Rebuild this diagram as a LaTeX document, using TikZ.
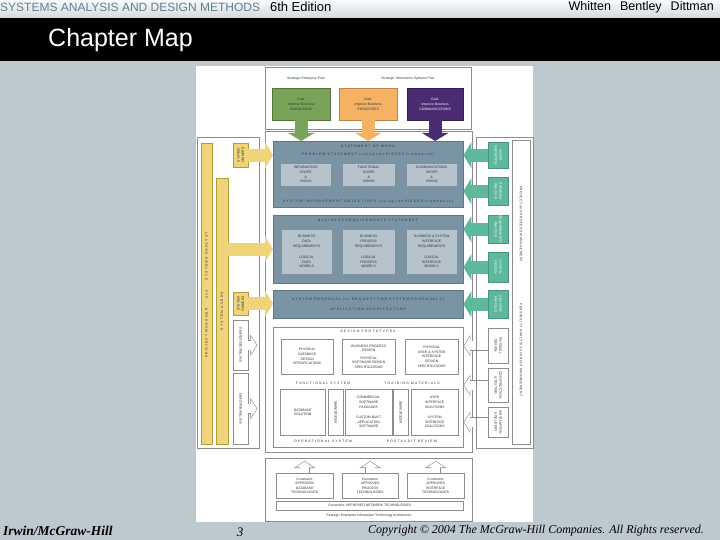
\documentclass[tikz,border=0pt]{standalone}
\usepackage{fontspec}
\setmainfont{Liberation Sans}
\newfontfamily\footfont{Liberation Serif}
\usetikzlibrary{calc,arrows.meta,positioning}

\definecolor{bgc}{HTML}{BDC8CF}
\definecolor{hdrc}{HTML}{62808F}
\definecolor{linec}{HTML}{8C8C8C}
\definecolor{blkc}{HTML}{7B94A3}
\definecolor{blkd}{HTML}{5F7786}
\definecolor{subc}{HTML}{B6C3CC}
\definecolor{ylw}{HTML}{EFD47A}
\definecolor{ylwd}{HTML}{B59A3A}
\definecolor{tealc}{HTML}{5DB89E}
\definecolor{grn}{HTML}{7AA35A}
\definecolor{orng}{HTML}{F6B264}
\definecolor{purp}{HTML}{4A2C72}
\definecolor{inkc}{HTML}{2B353B}

\newcommand\mini{\fontsize{3.4}{4.6}\selectfont}
\newcommand\minisp{\mini\addfontfeature{LetterSpace=35}}
\newcommand\minisl{\mini\addfontfeature{LetterSpace=12}}
\newcommand\holarrow[2]{%
  \draw[hol] #1 -- #2;
  \draw[holin] #1 -- #2;}

\begin{document}
\begin{tikzpicture}[x=1pt,y=-1pt,line width=0.4pt,
  wd/.style={minimum width=#1},ht/.style={minimum height=#1},
  box/.style={draw=linec,fill=white,inner sep=0.5pt,anchor=north west,align=center,font=\mini,text=inkc},
  blk/.style={box,draw=blkd,fill=blkc},
  sub/.style={box,draw=blkd!80,fill=subc},
  ybox/.style={box,draw=ylwd,fill=ylw},
  tbox/.style={box,draw=tealc!80!black,fill=tealc},
  lbl/.style={font=\mini,text=inkc,inner sep=0pt,align=center},
  ttl/.style={font=\minisp,text=inkc,inner sep=0pt},
  fat/.style={draw=#1,line width=13pt,-{Triangle[length=8pt,width=26pt]}},
  hol/.style={draw=linec,line width=10pt,-{Triangle[length=7pt,width=21pt]}},
  holin/.style={draw=white,line width=8.8pt,shorten >=0.72pt,-{Triangle[length=5.68pt,width=17.04pt]}}]
  % slide
  \fill[bgc] (0,0) rectangle (720,540);
  \shade[top color=white!92!bgc,bottom color=bgc!70!white] (0,0) rectangle (720,18);
  \node[anchor=west,inner sep=0pt,font=\fontsize{12}{12}\selectfont] (hdr) at (0,7)
    {\textcolor{hdrc}{SYSTEMS ANALYSIS AND DESIGN METHODS}\hspace{10pt}\fontsize{13}{13}\selectfont 6th Edition};
  \node[anchor=east,inner sep=0pt,font=\fontsize{12.5}{12.5}\selectfont] (auth) at (714,7)
    {Whitten\hspace{9pt}Bentley\hspace{9pt}Dittman};
  \fill[black] (0,18) rectangle (720,61);
  \node[anchor=west,inner sep=0pt,text=white,font=\fontsize{25}{25}\selectfont] (cmap) at (48,40) {Chapter Map};
  \node[anchor=west,inner sep=0pt,font=\footfont\bfseries\itshape\fontsize{13.5}{13.5}\selectfont] (irwin) at (3,531) {Irwin/McGraw-Hill};
  \node[inner sep=0pt,font=\footfont\itshape\fontsize{13}{13}\selectfont] (pg) at (240,532) {3};
  \node[anchor=west,inner sep=0pt,font=\footfont\itshape\fontsize{12}{12}\selectfont] (copy) at (368,531)
    {Copyright \textcopyright{} 2004 The McGraw-Hill Companies. All Rights reserved.};
  \fill[white] (196,66) rectangle (533,522);
  % plans and goals
  \draw[linec] (265,67) rectangle (471,129);
  \node[lbl] (sep) at (306,79) {Strategic Enterprise Plan};
  \node[lbl] (sisp) at (408,79) {Strategic Information Systems Plan};
  \node[box,draw=grn!70!black,fill=grn,wd=58,ht=32] (gK) at (272,88) {Goal:\\Improve Business\\KNOWLEDGE};
  \node[box,draw=orng!75!black,fill=orng,wd=58,ht=32] (gP) at (339,88) {Goal:\\Improve Business\\PROCESSES};
  \node[box,draw=purp!70!black,fill=purp,wd=56,ht=32,text=white] (gC) at (407,88) {Goal:\\Improve Business\\COMMUNICATIONS};
  % frames
  \draw[linec] (265,131) rectangle (472,452);
  \draw[linec] (197,137) rectangle (259,448);
  \draw[linec] (476,137) rectangle (533,448);
  % statement of work
  \node[blk,wd=190,ht=66] (sow) at (273,141) {};
  \node[ttl] (sowt) at (368,146) {STATEMENT OF WORK};
  \node[ttl] (pst) at (368,155) {PROBLEM STATEMENT (using the PIECES framework)};
  \node[sub,wd=51,ht=23] (infoS) at (280,163) {INFORMATION\\SCOPE\\\&\\VISION};
  \node[sub,wd=53,ht=23] (funcS) at (342,163) {FUNCTIONAL\\SCOPE\\\&\\VISION};
  \node[sub,wd=51,ht=23] (commS) at (406,163) {COMMUNICATIONS\\SCOPE\\\&\\VISION};
  \node[ttl] (sio) at (368,202) {SYSTEM IMPROVEMENT OBJECTIVES (using the PIECES framework)};
  % business requirements
  \node[blk,wd=190,ht=68] (brs) at (273,215) {};
  \node[ttl] (brst) at (368,221) {BUSINESS REQUIREMENTS STATEMENT};
  \node[sub,wd=51,ht=45] (dataR) at (281,229) {BUSINESS\\DATA\\REQUIREMENTS\\[7pt]LOGICAL\\DATA\\MODELS};
  \node[sub,wd=53,ht=45] (procR) at (342,229) {BUSINESS\\PROCESS\\REQUIREMENTS\\[7pt]LOGICAL\\PROCESS\\MODELS};
  \node[sub,wd=51,ht=45] (intR) at (406,229) {BUSINESS \& SYSTEM\\INTERFACE\\REQUIREMENTS\\[7pt]LOGICAL\\INTERFACE\\MODELS};
  % proposal
  \node[blk,wd=190,ht=28] (prop) at (273,290) {};
  \node[ttl] (propt) at (368,300) {SYSTEM PROPOSAL (or REQUEST FOR SYSTEM PROPOSALS)};
  \node[ttl] (arch) at (368,309) {APPLICATION ARCHITECTURE};
  % design and construction
  \node[box,wd=190,ht=120] (dp) at (273,327) {};
  \node[ttl] (dpt) at (368,331) {DESIGN PROTOTYPES};
  \node[box,wd=52,ht=35] (pdb) at (281,339) {PHYSICAL\\DATABASE\\DESIGN\\SPECIFICATIONS};
  \node[box,wd=53,ht=35] (bpd) at (342,339) {BUSINESS PROCESS\\DESIGN\\[3pt]PHYSICAL\\SOFTWARE DESIGN\\SPECIFICATIONS};
  \node[box,wd=53,ht=35] (pui) at (405,339) {PHYSICAL\\USER \& SYSTEM\\INTERFACE\\DESIGN\\SPECIFICATIONS};
  \node[ttl] (fs) at (323,383) {FUNCTIONAL SYSTEM};
  \node[ttl] (tm) at (412,383) {TRAINING MATERIALS};
  \node[box,wd=45,ht=46] (dbs) at (280,389) {DATABASE\\SOLUTION};
  \node[box,wd=15,ht=46] (mw1) at (328,389) {};
  \node[box,wd=47,ht=46] (app) at (345,389) {COMMERCIAL\\SOFTWARE\\PACKAGES\\[6pt]CUSTOM-BUILT\\APPLICATION\\SOFTWARE};
  \node[box,wd=15,ht=46] (mw2) at (393,389) {};
  \node[box,wd=47,ht=46] (uis) at (411,389) {USER\\INTERFACE\\SOLUTIONS\\[6pt]SYSTEM\\INTERFACE\\SOLUTIONS};
  \node[lbl,rotate=90] at (mw1.center) {MIDDLEWARE};
  \node[lbl,rotate=90] at (mw2.center) {MIDDLEWARE};
  \node[ttl] (ops) at (323,441) {OPERATIONAL SYSTEM};
  \node[ttl] (par) at (412,441) {POSTAUDIT REVIEW};
  % technology architecture
  \draw[linec] (265,458) rectangle (472,521);
  \node[box,wd=57,ht=25] (cD) at (276,473) {Constraint:\\APPROVED\\DATABASE\\TECHNOLOGIES};
  \node[box,wd=56,ht=25] (cP) at (342,473) {Constraint:\\APPROVED\\PROCESS\\TECHNOLOGIES};
  \node[box,wd=57,ht=25] (cI) at (407,473) {Constraint:\\APPROVED\\INTERFACE\\TECHNOLOGIES};
  \node[box,wd=187,ht=9] (net) at (276,501) {Constraint: APPROVED NETWORK TECHNOLOGIES};
  \node[lbl] (seita) at (369,516) {Strategic Enterprise Information Technology Architecture};
  \holarrow{(cD.north)}{($(cD.north)+(0,-12)$)}
  \holarrow{(cP.north)}{($(cP.north)+(0,-12)$)}
  \holarrow{(cI.north)}{($(cI.north)+(0,-12)$)}
  % left column
  \node[ybox,wd=11,ht=301] (pm) at (201,143) {};
  \node[ybox,wd=12,ht=266] (su) at (216,178) {};
  \node[ybox,wd=15,ht=24] (own1) at (233,143) {};
  \node[ybox,wd=15,ht=23] (own2) at (233,292) {};
  \node[box,wd=15,ht=50] (des) at (233,320) {};
  \node[box,wd=15,ht=71] (bld) at (233,373) {};
  \node[ttl,rotate=90] at (206.5,295) {PROJECT MANAGER\hspace{10pt}and\hspace{10pt}SYSTEMS ANALYST};
  \node[ttl,rotate=90] at (222,311) {SYSTEM USERS};
  \node[lbl,rotate=90] at (own1.center) {SYSTEM\\OWNERS};
  \node[lbl,rotate=90] at (own2.center) {SYSTEM\\OWNERS};
  \node[lbl,rotate=90] at (des.center) {SYSTEM DESIGNERS};
  \node[lbl,rotate=90] at (bld.center) {SYSTEM BUILDERS};
  \draw[fat=ylw] (own1.east) -- (own1.east -| sow.west);
  \draw[fat=ylw] (su.east |- brs.west) -- (brs.west);
  \draw[fat=ylw] (own2.east) -- (own2.east -| prop.west);
  \holarrow{(des.east)}{($(des.east)+(9,0)$)}
  \holarrow{(bld.east)}{($(bld.east)+(9,0)$)}
  % right column
  \node[box,wd=18,ht=304] (ppm) at (512,140) {};
  \node[ttl,font=\minisl,rotate=-90] at (521,224) {PROJECT and PROCESS MANAGEMENT};
  \node[ttl,font=\minisl,rotate=-90] at (521,350) {FEASIBILITY ANALYSIS and RISK MANAGEMENT};
  \node[tbox,wd=20,ht=26] (scope) at (488,142) {};
  \node[tbox,wd=20,ht=28] (prob) at (488,177) {};
  \node[tbox,wd=20,ht=28] (reqa) at (488,215) {};
  \node[tbox,wd=20,ht=30] (logd) at (488,252) {};
  \node[tbox,wd=20,ht=28] (deca) at (488,290) {};
  \node[box,wd=20,ht=35] (phd) at (488,328) {};
  \node[box,wd=20,ht=34] (cnt) at (488,368) {};
  \node[box,wd=20,ht=30] (ind) at (488,407) {};
  \node[lbl,rotate=-90,text=white] at (scope.center) {SCOPE\\DEFINITION};
  \node[lbl,rotate=-90,text=white] at (prob.center) {PROBLEM\\ANALYSIS};
  \node[lbl,rotate=-90,text=white] at (reqa.center) {REQUIREMENTS\\ANALYSIS};
  \node[lbl,rotate=-90,text=white] at (logd.center) {LOGICAL\\DESIGN};
  \node[lbl,rotate=-90,text=white] at (deca.center) {DECISION\\ANALYSIS};
  \node[lbl,rotate=-90] at (phd.center) {PHYSICAL\\DESIGN};
  \node[lbl,rotate=-90] at (cnt.center) {CONSTRUCTION\\\& TESTING};
  \node[lbl,rotate=-90] at (ind.center) {INSTALLATION\\\& DELIVERY};
  \draw[fat=tealc] (scope.west) -- (scope.west -| sow.east);
  \draw[fat=tealc] (prob.west) -- (prob.west -| sow.east);
  \draw[fat=tealc] (reqa.west) -- (reqa.west -| brs.east);
  \draw[fat=tealc] (logd.west) -- (logd.west -| brs.east);
  \draw[fat=tealc] (deca.west) -- (deca.west -| prop.east);
  \holarrow{(phd.west)}{(phd.west -| dp.east)}
  \holarrow{(cnt.west)}{(cnt.west -| dp.east)}
  \holarrow{(ind.west)}{(ind.west -| dp.east)}
  \draw[linec] (476,320) -- (476,448);
  % goal arrows
  \draw[fat=grn] (gK.south) -- (gK.south |- sow.north);
  \draw[fat=orng] (gP.south) -- (gP.south |- sow.north);
  \draw[fat=purp] (gC.south) -- (gC.south |- sow.north);
\end{tikzpicture}
\end{document}
